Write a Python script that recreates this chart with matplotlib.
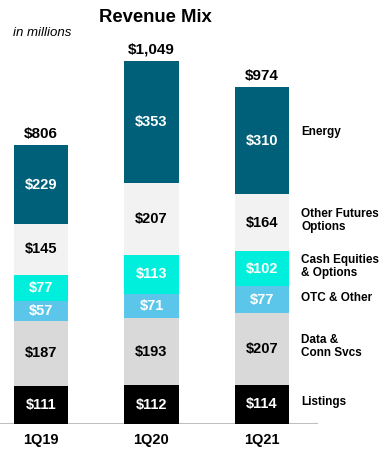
import matplotlib
matplotlib.use("Agg")
import matplotlib.pyplot as plt
import numpy as np

plt.rcParams['font.family'] = ['Liberation Sans', 'DejaVu Sans']

quarters = ["1Q19", "1Q20", "1Q21"]
segments = ["Listings", "Data &\nConn Svcs", "OTC & Other", "Cash Equities\n& Options",
            "Other Futures\nOptions", "Energy"]
listings = [111, 112, 114]
data_conn = [187, 193, 207]
otc_other = [57, 71, 77]
cash_eq = [77, 113, 102]
other_fut = [145, 207, 164]
energy = [229, 353, 310]
totals = ["$806", "$1,049", "$974"]

series = [listings, data_conn, otc_other, cash_eq, other_fut, energy]
colors = ["#000000", "#d9d9d9", "#5bc6ea", "#00efdc", "#f2f2f2", "#00607a"]
text_colors = ["white", "black", "white", "white", "black", "white"]

W, H = 380, 454
fig = plt.figure(figsize=(W / 100, H / 100), dpi=100)
base_px = 30
ax = fig.add_axes([0, base_px / H, 1, 1 - base_px / H])
spacing = 110.5
c0 = 41
ax.set_xlim(-c0 / spacing, (W - c0) / spacing)
scale = 0.346
ax.set_ylim(0, (H - base_px) / scale)
ax.axis('off')

x = np.arange(len(quarters))
bottom = np.zeros(len(quarters))
for vals, col, tcol in zip(series, colors, text_colors):
    vals = np.array(vals, dtype=float)
    ax.bar(x, vals, bottom=bottom, width=0.49, color=col, zorder=2)
    for xi, v, b in zip(x, vals, bottom):
        ax.text(xi, b + v / 2, f"${int(v)}", ha='center', va='center',
                color=tcol, fontsize=10.5, fontweight='bold', zorder=3)
    bottom = bottom + vals

for xi, t, top in zip(x, totals, bottom):
    ax.text(xi, top + 12, t, ha='center', va='bottom', fontsize=11,
            fontweight='bold', color='black')

# segment labels beside last bar
last_bottom = 0.0
for seg, vals in zip(segments, series):
    v = vals[-1]
    yc = last_bottom + v / 2
    if seg == "Energy":
        yc += 20
    ax.text((301 - c0) / spacing, yc + 6, seg, ha='left', va='center',
            fontsize=8.5, fontweight='bold', color='black', linespacing=1.1)
    last_bottom += v

# baseline
ax.axhline(0, xmin=0, xmax=317 / W, color="#bfbfbf", lw=1.5, zorder=1)

for xi, q in zip(x, quarters):
    fig.text((c0 + xi * spacing) / W, 1 - 440 / H, q, ha='center', va='center',
             fontsize=10.5, fontweight='bold')

fig.text(155 / W, 1 - 17 / H, "Revenue Mix", ha='center', va='center',
         fontsize=13.3, fontweight='bold')
fig.text(13 / W, 1 - 33 / H, "in millions", ha='left', va='center',
         fontsize=9.5, style='italic')

fig.savefig("out.png", dpi=100)
